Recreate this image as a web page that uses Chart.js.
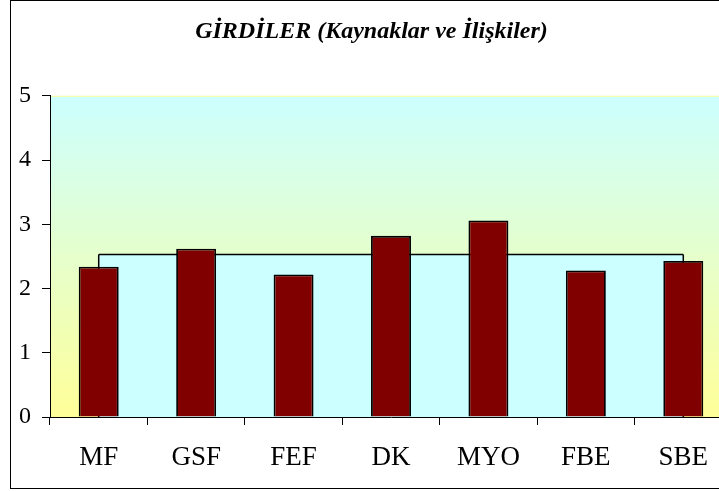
<!DOCTYPE html>
<html>
<head>
<meta charset="utf-8">
<script src="https://cdn.jsdelivr.net/npm/chart.js@4/dist/chart.umd.min.js"></script>
<style>
  html, body { margin: 0; padding: 0; overflow: hidden; background: #fff; }
  #frame {
    position: absolute; left: 10px; top: 0px;
    width: 730px; height: 487px;
    border: 1px solid #000;
  }
  #frame canvas { display: block; }
</style>
</head>
<body>
<div id="frame"><canvas id="girdiChart" width="730" height="487"></canvas></div>
<script>
var categories = ["MF", "GSF", "FEF", "DK", "MYO", "FBE", "SBE"];
var scores = [2.34, 2.62, 2.22, 2.82, 3.06, 2.28, 2.43];
var average = [2.53, 2.53, 2.53, 2.53, 2.53, 2.53, 2.53];
var yTicks = [0, 1, 2, 3, 4, 5];

// plot area background: cyan on top fading to yellow at the bottom
var plotBackground = {
  id: "plotBackground",
  beforeDraw: function (chart) {
    var a = chart.chartArea;
    var c = chart.ctx;
    var g = c.createLinearGradient(0, a.top, 0, a.bottom);
    g.addColorStop(0, "#CCFFFF");
    g.addColorStop(1, "#FFFF99");
    c.save();
    c.fillStyle = g;
    c.fillRect(a.left, a.top, a.right - a.left, a.bottom - a.top);
    c.strokeStyle = "#FFFF99";
    c.lineWidth = 1;
    c.beginPath();
    c.moveTo(a.left, a.top + 0.5);
    c.lineTo(a.right, a.top + 0.5);
    c.stroke();
    c.restore();
  }
};

// the area series has closed ends in the original
var areaEdges = {
  id: "areaEdges",
  afterDatasetDraw: function (chart, args) {
    if (args.index !== 1) return;
    var pts = args.meta.data;
    var y0 = chart.scales.y.getPixelForValue(0);
    var c = chart.ctx;
    c.save();
    c.strokeStyle = "#000";
    c.lineWidth = 1.5;
    c.beginPath();
    [pts[0], pts[pts.length - 1]].forEach(function (p) {
      c.moveTo(p.x, p.y);
      c.lineTo(p.x, y0);
    });
    c.stroke();
    c.restore();
  }
};

var ctx = document.getElementById("girdiChart").getContext("2d");
var girdiChart = new Chart(ctx, {
  type: "bar",
  data: {
    labels: categories,
    datasets: [
      {
        label: "Puan",
        data: scores,
        backgroundColor: "#800000",
        borderColor: "#000",
        borderWidth: 1.8,
        barPercentage: 0.41,
        categoryPercentage: 1,
        order: 1
      },
      {
        type: "line",
        label: "Ortalama",
        data: average,
        fill: "origin",
        backgroundColor: "#CCFFFF",
        borderColor: "#000",
        borderWidth: 1.5,
        pointRadius: 0,
        tension: 0,
        order: 2
      }
    ]
  },
  options: {
    responsive: false,
    animation: false,
    layout: { padding: { left: 0, right: 9, top: 0, bottom: 0 } },
    plugins: {
      legend: { display: false },
      tooltip: { enabled: false },
      title: {
        display: true,
        text: "GİRDİLER (Kaynaklar ve İlişkiler)",
        color: "#000",
        font: { family: "Liberation Serif", size: 24, weight: "bold", style: "italic" },
        padding: { top: 16, bottom: 50 }
      }
    },
    scales: {
      x: {
        offset: true,
        afterFit: function (scale) { scale.height = 71; },
        grid: { display: true, drawOnChartArea: false, offset: true, color: "#000", tickLength: 8 },
        border: { color: "#000", width: 1 },
        ticks: {
          color: "#000",
          padding: 17,
          font: { family: "Liberation Serif", size: 27 }
        }
      },
      y: {
        min: 0,
        max: 5,
        afterBuildTicks: function (scale) {
          scale.ticks = yTicks.map(function (v) { return { value: v }; });
        },
        afterFit: function (scale) { scale.width = 39; },
        grid: { display: true, drawOnChartArea: false, color: "#000", tickLength: 8 },
        border: { color: "#000", width: 1 },
        ticks: {
          color: "#000",
          padding: 11,
          font: { family: "Liberation Serif", size: 24 }
        }
      }
    }
  },
  plugins: [plotBackground, areaEdges]
});
</script>
</body>
</html>
